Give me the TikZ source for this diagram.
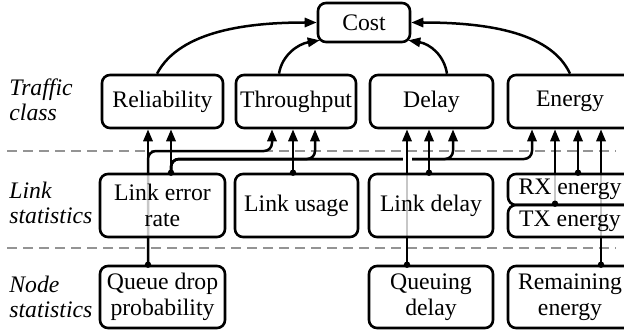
\documentclass[tikz,border=0pt]{standalone}
\usepackage{fontspec}
\setmainfont{Liberation Serif}
\usetikzlibrary{arrows.meta,calc}

\begin{document}
\begin{tikzpicture}[x=0.5pt,y=-0.5pt,
  box/.style={draw=black, line width=1.3pt, rounded corners=4pt, fill=white,
    fill opacity=0.78, text opacity=1, inner sep=0pt, align=center,
    font=\fontsize{11.85}{13}\selectfont},
  layerlabel/.style={align=left, inner sep=0pt, anchor=base west,
    font=\fontsize{11.85}{12.5}\selectfont\itshape},
  sep/.style={draw=black!42, line width=1pt, dash pattern=on 5pt off 3pt},
  feed/.style={line width=1.25pt, -{Triangle[length=6pt,width=4.6pt]}},
  bus/.style={feed, rounded corners=4pt},
  bridge/.style={draw=white, line width=4.5pt},
  dotr/.style={radius=1.6pt},
]
\useasboundingbox (0,0) rectangle (624,331);
\clip (0,0) rectangle (624,331);

% layer separators
\draw[sep] (7,151) -- (616,151);
\draw[sep] (7,248) -- (616,248);

% layer labels (anchored on the baseline of their last line)
\node[layerlabel] (lbltraffic) at (9,120) {Traffic\\class};
\node[layerlabel] (lbllink) at (9,223) {Link\\statistics};
\node[layerlabel] (lblnode) at (9,317) {Node\\statistics};

% cost and traffic-class boxes
\path
  node[box, minimum width=46pt,   minimum height=19.5pt] (cost) at (364,22.5)  {Cost}
  node[box, minimum width=60.5pt, minimum height=26.5pt] (rel)  at (162.5,101.5) {Reliability}
  node[box, minimum width=60pt,   minimum height=26.5pt] (thr)  at (296,101.5) {Throughput}
  node[box, minimum width=61.5pt, minimum height=26.5pt] (del)  at (431.5,101.5) {Delay}
  node[box, minimum width=62pt,   minimum height=26.5pt] (ene)  at (570,101.5) {Energy};

% connectors (drawn under the statistics boxes)
% queue drop probability
\draw[feed] (162.5,266 -| 148,0) -- (rel.south -| 148,0);
\draw[bus]  (162.5,266 -| 148,0) |- (272,151) -- (thr.south -| 272,0);
% link error rate
\draw[feed] (162.5,174 -| 171,0) -- (rel.south -| 171,0);
\draw[bus]  (162.5,174 -| 171,0) |- (532,159) -- (ene.south -| 532,0);
\draw[bus]  (162.5,174 -| 171,0) |- (453,159) -- (del.south -| 453,0);
\draw[bus]  (162.5,174 -| 171,0) |- (315,159) -- (thr.south -| 315,0);
% link usage
\draw[feed] (296.5,174 -| 293,0) -- (thr.south -| 293,0);
% queuing delay, bridging the error-rate bus
\draw[bridge] (407,155) -- (407,163);
\draw[feed] (431,266 -| 407,0) -- (del.south -| 407,0);
% link delay
\draw[feed] (431,174 -| 429,0) -- (del.south -| 429,0);
% energy statistics
\draw[feed] (570,205 -| 555,0) -- (ene.south -| 555,0);
\draw[feed] (570,174 -| 578,0) -- (ene.south -| 578,0);
\draw[feed] (570,266 -| 601,0) -- (ene.south -| 601,0);

% statistics boxes
\path
  node[box, minimum width=62.5pt, minimum height=31.5pt] (ler) at (162.5,205.5) {Link error\\rate}
  node[box, minimum width=61.5pt, minimum height=31.5pt] (lu)  at (296.5,205.5) {Link usage}
  node[box, minimum width=62pt,   minimum height=31.5pt] (ld)  at (431,205.5)   {Link delay}
  node[box, minimum width=62pt,   minimum height=15.5pt] (rx)  at (570,189.5)   {RX energy}
  node[box, minimum width=62pt,   minimum height=16pt]   (tx)  at (570,221)     {TX energy}
  node[box, minimum width=62.5pt, minimum height=31pt]   (qdp) at (162.5,297)   {Queue drop\\probability}
  node[box, minimum width=62pt,   minimum height=31pt]   (qd)  at (431,297)     {Queuing\\delay}
  node[box, minimum width=62pt,   minimum height=31pt]   (rem) at (570,297)     {Remaining\\energy};

% source dots
\fill[dotr] (qdp.north -| 148,0) circle;
\fill[dotr] (ler.north -| 171,0) circle;
\fill[dotr] (lu.north -| 293,0) circle;
\fill[dotr] (qd.north -| 407,0) circle;
\fill[dotr] (ld.north -| 429,0) circle;
\fill[dotr] (tx.north -| 555,0) circle;
\fill[dotr] (rx.north -| 578,0) circle;
\fill[dotr] (rem.north -| 601,0) circle;

% traffic classes into the cost
\draw[feed] (rel.north -| 157,0) .. controls (180,30) and (250,22.5) .. (cost.west);
\draw[feed] (thr.north -| 279,0) .. controls (282,55) and (298,44) .. ($(cost.south west)+(3,-3)$);
\draw[feed] (del.north -| 447,0) .. controls (444,55) and (430,44) .. ($(cost.south east)+(-3,-3)$);
\draw[feed] (ene.north -| 570,0) .. controls (550,30) and (480,22.5) .. (cost.east);
\end{tikzpicture}
\end{document}
